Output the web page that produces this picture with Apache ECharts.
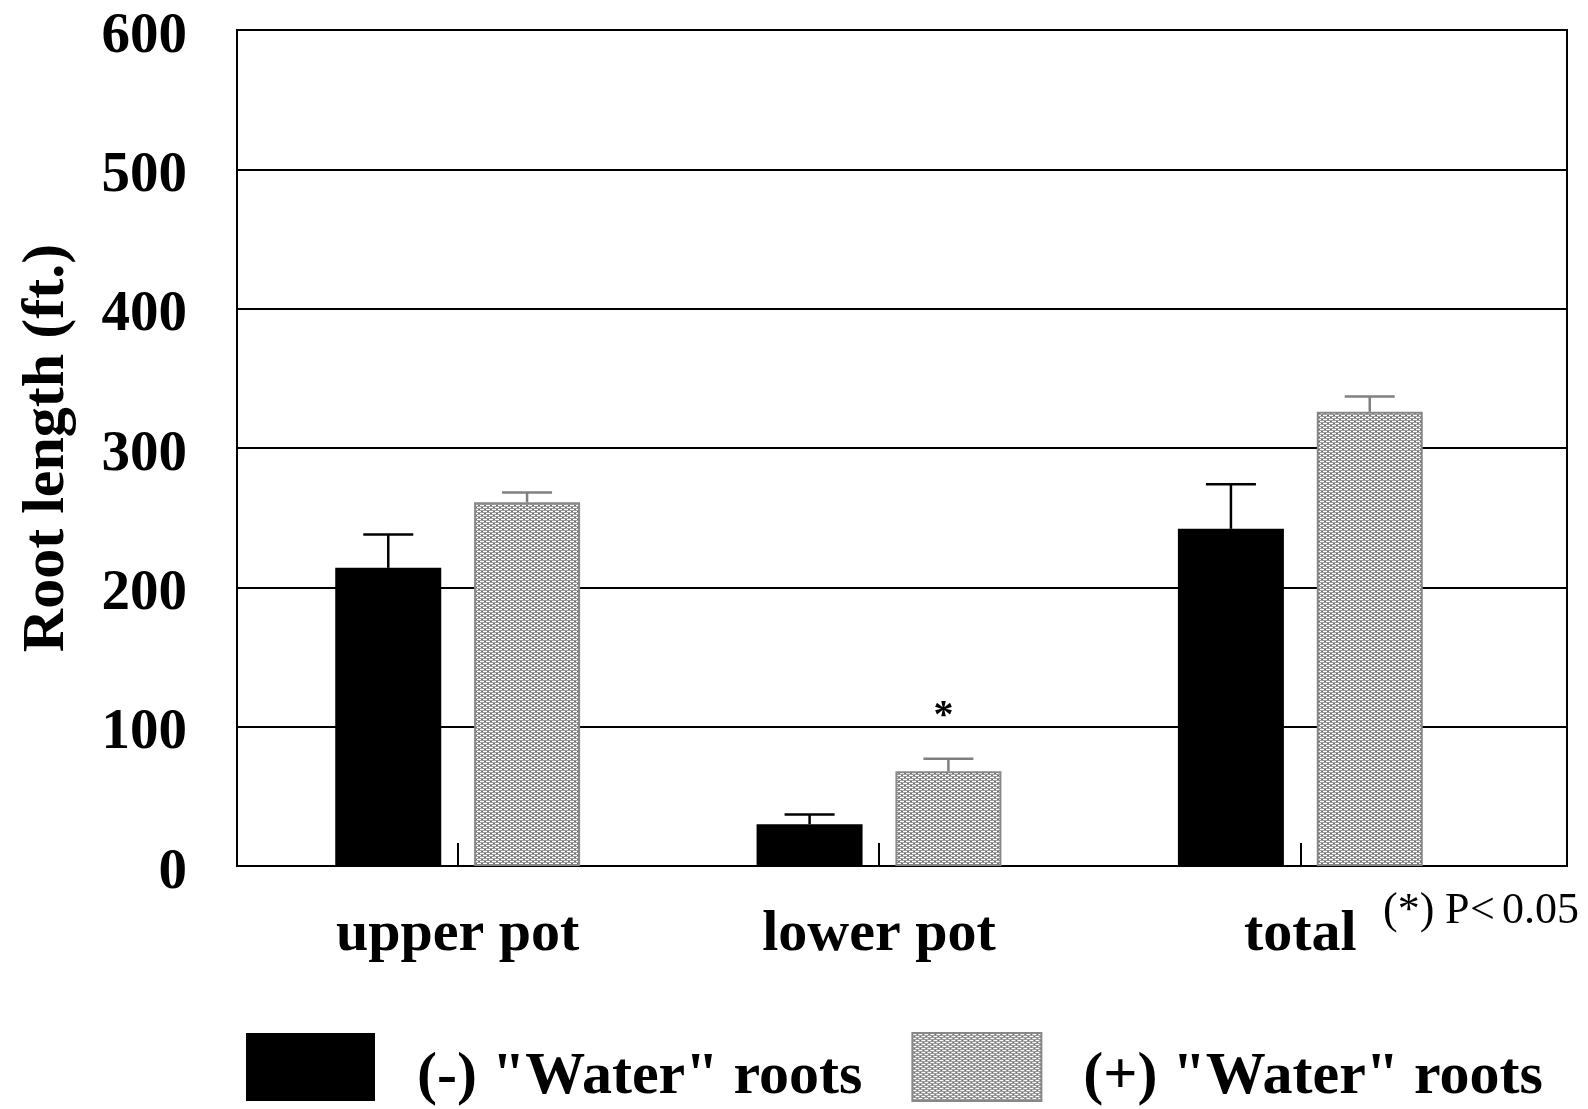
<!DOCTYPE html>
<html><head><meta charset="utf-8">
<script src="https://cdn.jsdelivr.net/npm/echarts@6/dist/echarts.min.js"></script>
<style>html,body{margin:0;padding:0;background:#fff}#c{width:1588px;height:1109px}</style>
</head><body><div id="c"></div>
<script>
const categories = ['upper pot', 'lower pot', 'total'];
const minusMeans = [214, 30, 242];
const minusErr = [24, 7, 32];
const plusMeans = [261, 68, 326];
const plusErr = [7, 9, 11];
const plusSig = ['', '*', ''];
const yTicks = [0, 100, 200, 300, 400, 500, 600];
const seriesNames = ['(-) "Water" roots', '(+) "Water" roots'];
const yTitle = 'Root length (ft.)';
const noteParts = ['(*)', 'P', '<', '0.05'];

const FONT = '"Liberation Serif", "Times New Roman", serif';

function makePattern() {
  const c = document.createElement('canvas');
  c.width = 6; c.height = 4;
  const g = c.getContext('2d');
  g.fillStyle = '#9c9c9c'; g.fillRect(0, 0, 6, 4);
  g.fillStyle = '#707070'; g.fillRect(0, 1, 6, 1); g.fillRect(0, 3, 6, 1);
  g.fillStyle = '#ffffff';
  g.fillRect(0, 1, 4, 1);
  g.fillRect(3, 3, 3, 1); g.fillRect(0, 3, 1, 1);
  return c;
}
const pattern = { image: makePattern(), repeat: 'repeat' };

function errRender(offset, color, sig) {
  return function (params, api) {
    const i = api.value(0), m = api.value(1), e = api.value(2);
    const base = api.coord([i, m]);
    const top = api.coord([i, m + e]);
    const x = base[0] + offset;
    const half = 25;
    const children = [
      { type: 'line', shape: { x1: x, y1: base[1], x2: x, y2: top[1] }, style: { stroke: color, lineWidth: 2.5 } },
      { type: 'line', shape: { x1: x - half, y1: top[1], x2: x + half, y2: top[1] }, style: { stroke: color, lineWidth: 2.5 } }
    ];
    if (sig && sig[params.dataIndex]) {
      children.push({ type: 'text', x: x - 5, y: top[1] - 42,
        style: { text: sig[params.dataIndex], font: 'bold 40px ' + FONT, fill: '#000', align: 'center', verticalAlign: 'middle' } });
    }
    return { type: 'group', children: children };
  };
}

const chart = echarts.init(document.getElementById('c'));
const yMin = yTicks[0], yMax = yTicks[yTicks.length - 1], yStep = yTicks[1] - yTicks[0];

chart.setOption({
  animation: false,
  backgroundColor: '#fff',
  grid: [
    { left: 237, right: 21, top: 30, bottom: 243, show: true, borderColor: '#000', borderWidth: 2, backgroundColor: 'transparent' },
    { left: 247, right: 77, top: 30, bottom: 243 }
  ],
  xAxis: [
    { gridIndex: 0, type: 'category', data: categories, show: false },
    { gridIndex: 1, type: 'category', data: categories,
      axisLine: { show: true, lineStyle: { color: '#000', width: 2 } },
      axisTick: { show: true, inside: true, length: 23, alignWithLabel: true, lineStyle: { color: '#000', width: 2 } },
      axisLabel: { margin: 40, color: '#000', fontFamily: FONT, fontWeight: 'bold', fontSize: 58 } }
  ],
  yAxis: [
    { gridIndex: 0, type: 'value', min: yMin, max: yMax, interval: yStep,
      name: yTitle, nameLocation: 'middle', nameGap: 160,
      nameTextStyle: { color: '#000', fontFamily: FONT, fontWeight: 'bold', fontSize: 60 },
      axisLine: { show: false }, axisTick: { show: false },
      axisLabel: { margin: 50, formatter: '{v|{value}}',
        rich: { v: { color: '#000', fontFamily: FONT, fontWeight: 'bold', fontSize: 57, padding: [14, 0, 0, 0] } } },
      splitLine: { show: true, lineStyle: { color: '#000', width: 2 } } },
    { gridIndex: 1, type: 'value', min: yMin, max: yMax, interval: yStep, show: false, splitLine: { show: false } }
  ],
  legend: {
    left: 246, top: 1032, padding: 0, itemWidth: 129, itemHeight: 68, itemGap: 49, icon: 'rect',
    data: seriesNames,
    formatter: function (name) { return '{t|' + name + '}'; },
    textStyle: { rich: { t: { color: '#000', fontFamily: FONT, fontWeight: 'bold', fontSize: 60, padding: [20, 0, 0, 37] } } }
  },
  series: [
    { name: seriesNames[0], type: 'bar', xAxisIndex: 1, yAxisIndex: 1, data: minusMeans,
      barWidth: 106, barGap: '31%', itemStyle: { color: '#000' } },
    { name: seriesNames[1], type: 'bar', xAxisIndex: 1, yAxisIndex: 1, data: plusMeans,
      barWidth: 106, barGap: '31%', itemStyle: { color: pattern, borderColor: '#888', borderWidth: 2 } },
    { type: 'custom', xAxisIndex: 1, yAxisIndex: 1, z: 5, clip: false,
      renderItem: errRender(-69.4, '#000', null),
      data: categories.map((c, i) => [i, minusMeans[i], minusErr[i]]) },
    { type: 'custom', xAxisIndex: 1, yAxisIndex: 1, z: 5, clip: false,
      renderItem: errRender(69.4, '#808080', plusSig),
      data: categories.map((c, i) => [i, plusMeans[i], plusErr[i]]) }
  ],
  graphic: [
    { type: 'text', left: 1383, top: 889,
      style: { text: '{a|' + noteParts[0] + '}{b|' + noteParts[1] + '}{c|' + noteParts[2] + '}{d|' + noteParts[3] + '}',
        font: '44px ' + FONT, fill: '#000',
        rich: { a: { width: 62, fontSize: 44, fontFamily: FONT }, b: { width: 25, fontSize: 44, fontFamily: FONT },
                c: { width: 32, fontSize: 44, fontFamily: FONT }, d: { fontSize: 44, fontFamily: FONT } } } }
  ]
});
</script></body></html>
